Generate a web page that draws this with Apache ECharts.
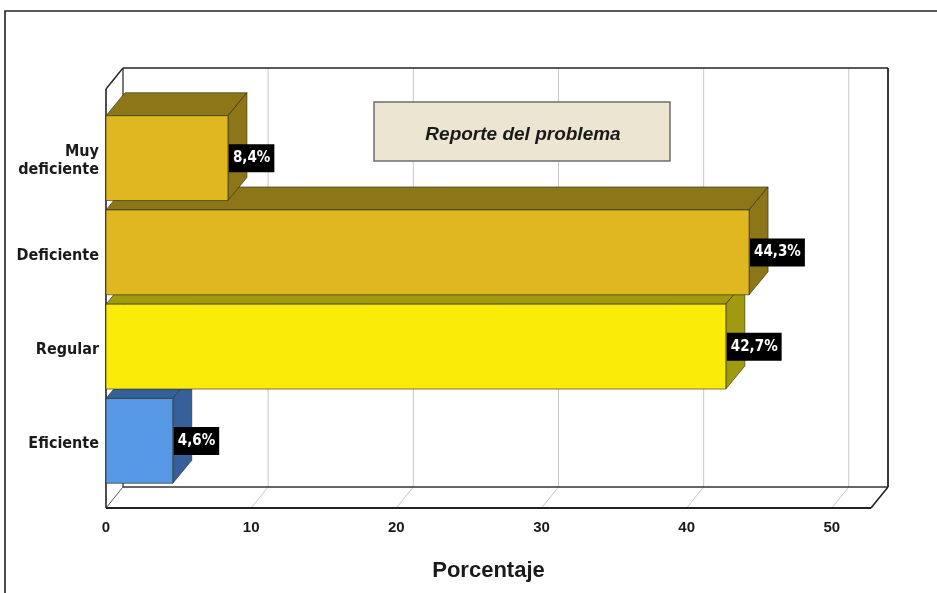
<!DOCTYPE html>
<html><head><meta charset="utf-8">
<script src="https://cdn.jsdelivr.net/npm/echarts@6/dist/echarts.min.js"></script>
<style>html,body{margin:0;padding:0;background:#fff}#c{width:937px;height:593px}</style>
</head><body><div id="c"></div>
<script>
// ---- data ----
const categories = ['Eficiente', 'Regular', 'Deficiente', 'Muy\ndeficiente'];
const values = [4.6, 42.7, 44.3, 8.4];
const valueLabels = ['4,6%', '42,7%', '44,3%', '8,4%'];
const xTicks = [0, 10, 20, 30, 40, 50];
const X_MAX = 52.7;
const frontColors = ['#5697E6', '#FAEB08', '#DFB820', '#DFB820'];
const sideColors = ['#35609A', '#A09A10', '#8C7618', '#8C7618'];
const chartTitle = 'Reporte del problema';
const axisTitle = 'Porcentaje';

// ---- styles ----
const NARROW = "'DejaVu Sans Condensed','Liberation Sans Narrow',sans-serif";
const WIDE = "'Liberation Sans',Arial,sans-serif";
const FDX = 17, FDY = -21;   // frame depth
const BDX = 19, BDY = -23;   // bar depth

const chart = echarts.init(document.getElementById('c'), null, {renderer: 'canvas'});

function frameItem(params, api) {
  const cs = params.coordSys;
  const L = cs.x, T = cs.y, R = cs.x + cs.width, B = cs.y + cs.height;
  const ch = [];
  const line = (x1, y1, x2, y2, color, w) => ch.push({
    type: 'line', shape: {x1, y1, x2, y2},
    style: {stroke: color, lineWidth: w}
  });
  xTicks.forEach(t => {
    if (t === 0) return;
    const x = api.coord([t, 0])[0];
    line(x + FDX, T + FDY, x + FDX, B + FDY, '#c8c8c8', 1);
    line(x, B, x + FDX, B + FDY, '#c8c8c8', 1);
  });
  line(L + FDX, T + FDY, R + FDX, T + FDY, '#222', 1.6);
  line(R + FDX, T + FDY, R + FDX, B + FDY, '#222', 1.8);
  line(L + FDX, T + FDY, L + FDX, B + FDY, '#222', 1.2);
  line(L + FDX, B + FDY, R + FDX, B + FDY, '#333', 1.6);
  line(L, T, L + FDX, T + FDY, '#222', 1.4);
  line(L, T, L, B, '#222', 1.6);
  line(L, B, L + FDX, B + FDY, '#555', 1);
  line(L, B, R, B, '#222', 2);
  line(R, B, R + FDX, B + FDY, '#222', 1.6);
  return {type: 'group', children: ch};
}

function barItem(params, api) {
  const i = params.dataIndex;
  const v = api.value(0);
  const p0 = api.coord([0, i]);
  const p1 = api.coord([v, i]);
  const band = api.size([0, 1])[1];
  const h = band * 0.9;
  const x0 = p0[0], x1 = p1[0], yT = p0[1] - h / 2, yB = p0[1] + h / 2;
  const edge = 'rgba(40,40,20,0.75)';
  return {
    type: 'group',
    children: [
      {type: 'polygon', shape: {points: [[x0, yT], [x1, yT], [x1 + BDX, yT + BDY], [x0 + BDX, yT + BDY]]},
       style: {fill: sideColors[i], stroke: edge, lineWidth: 0.8}},
      {type: 'polygon', shape: {points: [[x1, yT], [x1, yB], [x1 + BDX, yB + BDY], [x1 + BDX, yT + BDY]]},
       style: {fill: sideColors[i], stroke: edge, lineWidth: 0.8}},
      {type: 'rect', shape: {x: x0, y: yT, width: x1 - x0, height: h},
       style: {fill: frontColors[i], stroke: edge, lineWidth: 0.8}},
      {type: 'text', x: x1 + 1, y: p0[1], z2: 50,
       style: {text: valueLabels[i], fill: '#fff', font: 'bold 15px ' + NARROW,
               backgroundColor: '#000', padding: [7, 4, 6, 4],
               align: 'left', verticalAlign: 'middle'}}
    ]
  };
}

const option = {
  animation: false,
  backgroundColor: '#fff',
  grid: [
    {left: 106, right: 66, top: 89, bottom: 85},
    {left: 106, right: 66, top: 111, bottom: 105},
    {left: 106, right: 66, top: 114, bottom: 102}
  ],
  xAxis: [
    {type: 'value', gridIndex: 0, min: 0, max: X_MAX, interval: 10,
     axisLine: {show: false}, axisTick: {show: false}, splitLine: {show: false},
     axisLabel: {margin: 12, color: '#1a1a1a', fontWeight: 'bold', fontSize: 15, fontFamily: WIDE,
                 formatter: v => xTicks.includes(v) ? String(v) : ''},
     name: axisTitle, nameLocation: 'middle', nameGap: 52,
     nameTextStyle: {color: '#1a1a1a', fontWeight: 'bold', fontSize: 22, fontFamily: WIDE}},
    {type: 'value', gridIndex: 1, min: 0, max: X_MAX, show: false},
    {type: 'value', gridIndex: 2, min: 0, max: X_MAX, show: false}
  ],
  yAxis: [
    {type: 'value', gridIndex: 0, min: 0, max: 1, show: false},
    {type: 'category', gridIndex: 1, data: categories, show: false},
    {type: 'category', gridIndex: 2, data: categories,
     axisLine: {show: false}, axisTick: {show: false}, splitLine: {show: false},
     axisLabel: {margin: 7, color: '#1a1a1a', fontWeight: 'bold', fontSize: 16, lineHeight: 18,
                 fontFamily: NARROW, align: 'right'}}
  ],
  series: [
    {type: 'custom', xAxisIndex: 0, yAxisIndex: 0, data: [[0, 0]], renderItem: frameItem, z: 1, silent: true},
    {type: 'custom', xAxisIndex: 1, yAxisIndex: 1, z: 3,
     data: values.map((v, i) => [v, i]), encode: {x: 0, y: 1}, renderItem: barItem}
  ],
  graphic: [
    {type: 'rect', z: 10, shape: {x: 374, y: 102, width: 296, height: 59},
     style: {fill: '#EBE5D2', stroke: '#6e6e6e', lineWidth: 1.5}},
    {type: 'text', z: 11, x: 523, y: 135,
     style: {text: chartTitle, font: 'italic bold 19px ' + WIDE, fill: '#1a1a1a',
             align: 'center', verticalAlign: 'middle'}},
    {type: 'rect', z: 20, shape: {x: 5, y: 11, width: 1000, height: 1000},
     style: {fill: 'none', stroke: '#222', lineWidth: 1.6}}
  ]
};
chart.setOption(option);
</script></body></html>
